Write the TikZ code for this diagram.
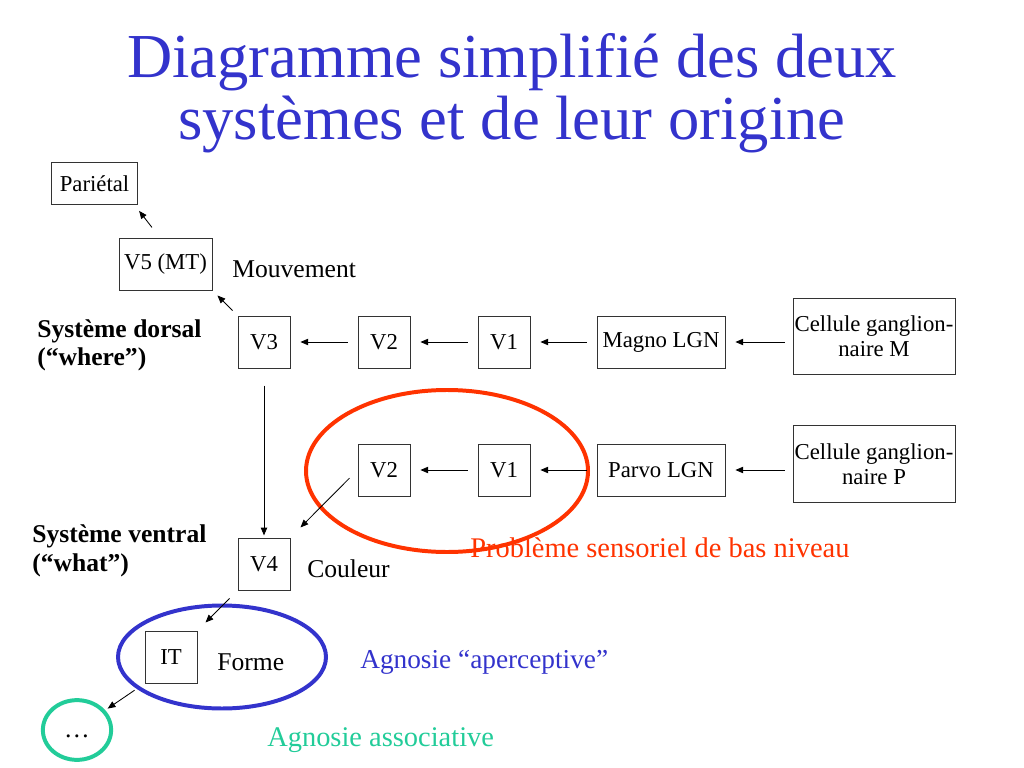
\documentclass[tikz,border=0pt]{standalone}
\usepackage{fontspec}
\setmainfont{Liberation Serif}
\usetikzlibrary{arrows.meta,shapes.geometric}
\definecolor{titreBleu}{RGB}{51,51,204}
\definecolor{rouge}{RGB}{255,51,0}
\definecolor{vert}{RGB}{34,204,153}
\begin{document}
\begin{tikzpicture}[x=0.703125pt,y=-0.703125pt,
    boite/.style={draw=black!80, line width=0.6pt, inner sep=0pt, minimum width=36.6pt, minimum height=36.6pt, font=\fontsize{16}{17.6}\selectfont, align=center},
    texte/.style={anchor=west, inner sep=0pt, font=\fontsize{18}{20.4}\selectfont, align=left},
    fleche/.style={-{Triangle[length=5.5pt,width=4.5pt]}, line width=0.6pt, shorten <=7pt, shorten >=7pt}]
    \useasboundingbox (0,0) rectangle (1024,768);

    % titre
    \node[anchor=base, inner sep=0pt, text=titreBleu, font=\fontsize{44}{44}\selectfont] (titre1) at (512,78) {Diagramme simplifié des deux};
    \node[anchor=base, inner sep=0pt, text=titreBleu, font=\fontsize{44}{44}\selectfont] (titre2) at (512,140) {systèmes et de leur origine};

    % voie dorsale (magno)
    \node[boite, minimum width=60pt, minimum height=30pt] (pariet) at (94.5,183.5) {Pariétal};
    \node[boite, minimum width=65.4pt] (v5) at (165.5,264) {V5 (MT)};
    \node[boite] (v3) at (264,342) {V3};
    \node[boite] (v2m) at (384,342) {V2};
    \node[boite] (v1m) at (504,342) {V1};
    \node[boite, minimum width=90pt] (magno) at (661,342) {Magno LGN};
    \node[boite, minimum width=114pt, minimum height=54pt] (cellm) at (874,336.5) {Cellule ganglion-\\naire M};

    % voie ventrale (parvo)
    \node[boite] (v2p) at (384,470) {V2};
    \node[boite] (v1p) at (504,470) {V1};
    \node[boite, minimum width=90pt] (parvo) at (661,470) {Parvo LGN};
    \node[boite, minimum width=114pt, minimum height=54pt] (cellp) at (874,464) {Cellule ganglion-\\naire P};
    \node[boite] (v4) at (264,564) {V4};
    \node[boite] (it) at (171,657) {IT};
    \node[draw=vert, line width=2.8pt, ellipse, minimum width=48pt, minimum height=42pt, inner sep=0pt] (suite) at (77,730) {};
    \node[inner sep=0pt, font=\fontsize{18}{20}\selectfont] (points) at (77,736) {\ldots};

    % étiquettes
    \node[texte] (mouv) at (232,269) {Mouvement};
    \node[texte] (coul) at (307,569) {Couleur};
    \node[texte] (forme) at (217,662) {Forme};
    \node[texte, font=\fontsize{18}{20}\selectfont\bfseries] (dorsal) at (37,345.5) {Système dorsal\\(“where”)};
    \node[texte, font=\fontsize{18}{20.4}\selectfont\bfseries] (ventral) at (32,550.5) {Système ventral\\(“what”)};

    % zones des troubles
    \draw[rouge, line width=2.8pt] (447,471) ellipse [x radius=141, y radius=81];
    \draw[titreBleu, line width=2.8pt] (222,657) ellipse [x radius=104, y radius=51.5];
    \node[texte, text=rouge, font=\fontsize{20}{22}\selectfont] (bas) at (470,548) {Problème sensoriel de bas niveau};
    \node[texte, text=titreBleu, font=\fontsize{19.2}{22}\selectfont] (aperc) at (360,662) {Agnosie “aperceptive”};
    \node[texte, text=vert, font=\fontsize{20}{22}\selectfont] (assoc) at (267,740) {Agnosie associative};

    % flèches horizontales
    \draw[fleche, shorten <=5.5pt] (cellm.west |- magno.east) -- (magno.east);
    \draw[fleche] (magno) -- (v1m);
    \draw[fleche] (v1m) -- (v2m);
    \draw[fleche] (v2m) -- (v3);
    \draw[fleche, shorten <=5.5pt] (cellp.west |- parvo.east) -- (parvo.east);
    \draw[fleche] (parvo) -- (v1p);
    \draw[fleche] (v1p) -- (v2p);

    % flèches obliques et verticales
    \draw[fleche, shorten <=5pt, shorten >=5pt] (v3.north west) -- (v5.south east);
    \draw[fleche, shorten <=9pt, shorten >=5pt] ([xshift=-4pt]v5.north) -- ([xshift=-2pt]pariet.south east);
    \draw[fleche, shorten <=12pt, shorten >=1.5pt] (v3) -- (v4);
    \draw[fleche, shorten <=8pt, shorten >=10pt] (v2p.west) -- (v4.north east);
    \draw[fleche, shorten <=8pt, shorten >=8pt] (v4.south west) -- (it.north east);
    \draw[fleche, shorten <=8.5pt, shorten >=2pt] (it.south west) -- (suite.35);
\end{tikzpicture}
\end{document}
